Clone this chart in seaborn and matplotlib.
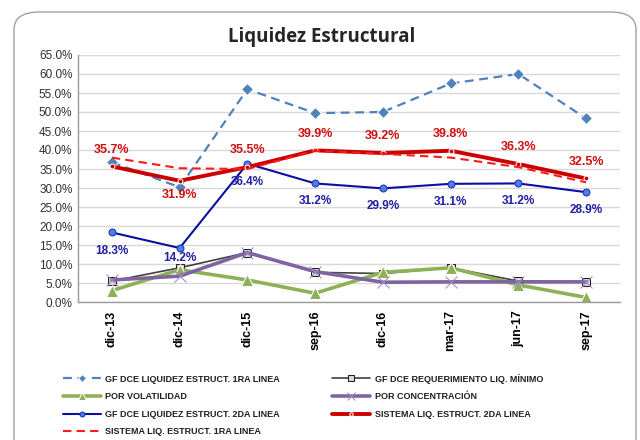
import numpy as np
import pandas as pd
import matplotlib
matplotlib.use("Agg")
import matplotlib.pyplot as plt
import seaborn as sns
from matplotlib.patches import FancyBboxPatch
from matplotlib.ticker import PercentFormatter

# --- data (in %) ---
periods = ["dic-13", "dic-14", "dic-15", "sep-16", "dic-16", "mar-17", "jun-17", "sep-17"]
gf_1ra = [36.8, 30.2, 56.0, 49.7, 50.0, 57.5, 60.0, 48.3]
gf_req = [5.5, 9.0, 13.0, 7.8, 7.5, 9.0, 5.5, 5.3]
volatilidad = [3.0, 8.5, 5.8, 2.3, 7.8, 9.0, 4.5, 1.2]
concentracion = [5.8, 6.8, 13.0, 8.0, 5.2, 5.3, 5.3, 5.3]
gf_2da = [18.3, 14.2, 36.4, 31.2, 29.9, 31.1, 31.2, 28.9]
sis_2da = [35.7, 31.9, 35.5, 39.9, 39.2, 39.8, 36.3, 32.5]
sis_1ra = [38.0, 35.2, 35.0, 39.8, 39.0, 38.0, 35.5, 31.5]

sns.set_theme(style="white")
plt.rcParams['font.family'] = ['Liberation Sans', 'DejaVu Sans']

fig = plt.figure(figsize=(6.4, 4.4), dpi=100)
ax = fig.add_axes([78 / 640, 1 - 302 / 440, 542 / 640, 247 / 440])

# rounded chart border
fig.patches.append(FancyBboxPatch((14 / 640, -0.05), 622 / 640, (440 - 12) / 440 + 0.05,
                                  boxstyle="round,pad=0,rounding_size=0.04",
                                  transform=fig.transFigure, fill=False,
                                  edgecolor="#a0a0a0", linewidth=1.0, zorder=0))

x = np.arange(len(periods))

series = [
    ("GF DCE LIQUIDEZ ESTRUCT. 1RA LINEA", gf_1ra,
     dict(color="#4f81bd", linestyle=(0, (4, 2.5)), linewidth=1.6, marker="D", markersize=6.5)),
    ("GF DCE REQUERIMIENTO LIQ. MÍNIMO", gf_req,
     dict(color="#404040", linewidth=1.2, marker="s", markersize=6,
          markerfacecolor="#d9d9d9", markeredgecolor="#202020")),
    ("POR VOLATILIDAD", volatilidad,
     dict(color="#8db255", linewidth=2.6, marker="^", markersize=8)),
    ("POR CONCENTRACIÓN", concentracion,
     dict(color="#8064a2", linewidth=2.6, marker="x", markersize=8, markeredgecolor="#a08cc0")),
    ("GF DCE LIQUIDEZ ESTRUCT. 2DA LINEA", gf_2da,
     dict(color="#0a10a0", linewidth=1.5, marker="o", markersize=5,
          markerfacecolor="#4a7fe0", markeredgecolor="#2030c0")),
    ("SISTEMA LIQ. ESTRUCT. 2DA LINEA", sis_2da,
     dict(color="#cc0000", linewidth=2.8, marker="o", markersize=3.5)),
    ("SISTEMA LIQ. ESTRUCT. 1RA LINEA", sis_1ra,
     dict(color="#ff1a1a", linestyle=(0, (4, 2.5)), linewidth=1.5)),
]

handles = {}
for name, vals, kw in series:
    sns.lineplot(x=x, y=vals, ax=ax, label=name, **kw)
    handles[name] = ax.get_lines()[-1]

# data labels
red_off = [12, -10, 12, 12, 12, 12, 12, 12]
blue_off = [-13, -7, -13, -13, -13, -13, -13, -13]
for xi, v, o in zip(x, sis_2da, red_off):
    ax.annotate(f"{v:.1f}%", (xi, v), xytext=(0, o), textcoords="offset points",
                ha="center", va="center", fontsize=9, fontweight="bold", color="#d01010")
for xi, v, o in zip(x, gf_2da, blue_off):
    ax.annotate(f"{v:.1f}%", (xi, v), xytext=(0, o), textcoords="offset points",
                ha="center", va="center", fontsize=8.5, fontweight="bold", color="#2020a0")

ax.set_xlim(-0.5, len(periods) - 0.5)
ax.set_ylim(0, 65)
ax.set_yticks(np.arange(0, 66, 5))
ax.yaxis.set_major_formatter(PercentFormatter(decimals=1))
ax.set_xticks(x)
ax.set_xticklabels(periods, rotation=90, fontsize=9, fontweight="bold", color="#000000")
ax.tick_params(axis="y", labelsize=8.5, colors="#303030", length=0, pad=4)
ax.tick_params(axis="x", length=0, pad=6)
ax.grid(axis="y", color="#d9d9d9", linewidth=1.0)
ax.set_axisbelow(True)
for s in ["top", "right"]:
    ax.spines[s].set_visible(False)
for s in ["left", "bottom"]:
    ax.spines[s].set_color("#9a9a9a")
    ax.spines[s].set_linewidth(1.0)
ax.set_xlabel("")
ax.set_ylabel("")

fig.text(322 / 640, 1 - 37 / 440, "Liquidez Estructural", ha="center", va="center",
         fontsize=13.5, fontweight="bold", family=["Open Sans", "DejaVu Sans"])

ax.get_legend().remove()
order = ["GF DCE LIQUIDEZ ESTRUCT. 1RA LINEA", "POR VOLATILIDAD",
         "GF DCE LIQUIDEZ ESTRUCT. 2DA LINEA", "SISTEMA LIQ. ESTRUCT. 1RA LINEA",
         "GF DCE REQUERIMIENTO LIQ. MÍNIMO", "POR CONCENTRACIÓN",
         "SISTEMA LIQ. ESTRUCT. 2DA LINEA"]
leg = fig.legend([handles[n] for n in order], order, loc="upper left",
                 bbox_to_anchor=(59 / 640, 1 - 370 / 440), ncol=2, frameon=False,
                 fontsize=6.5, handlelength=4.2, handletextpad=0.5, columnspacing=5.8,
                 labelspacing=0.95, markerscale=0.7, borderaxespad=0)
for t in leg.get_texts():
    t.set_fontweight("bold")
    t.set_color("#202020")

fig.savefig("out.png", dpi=100)
